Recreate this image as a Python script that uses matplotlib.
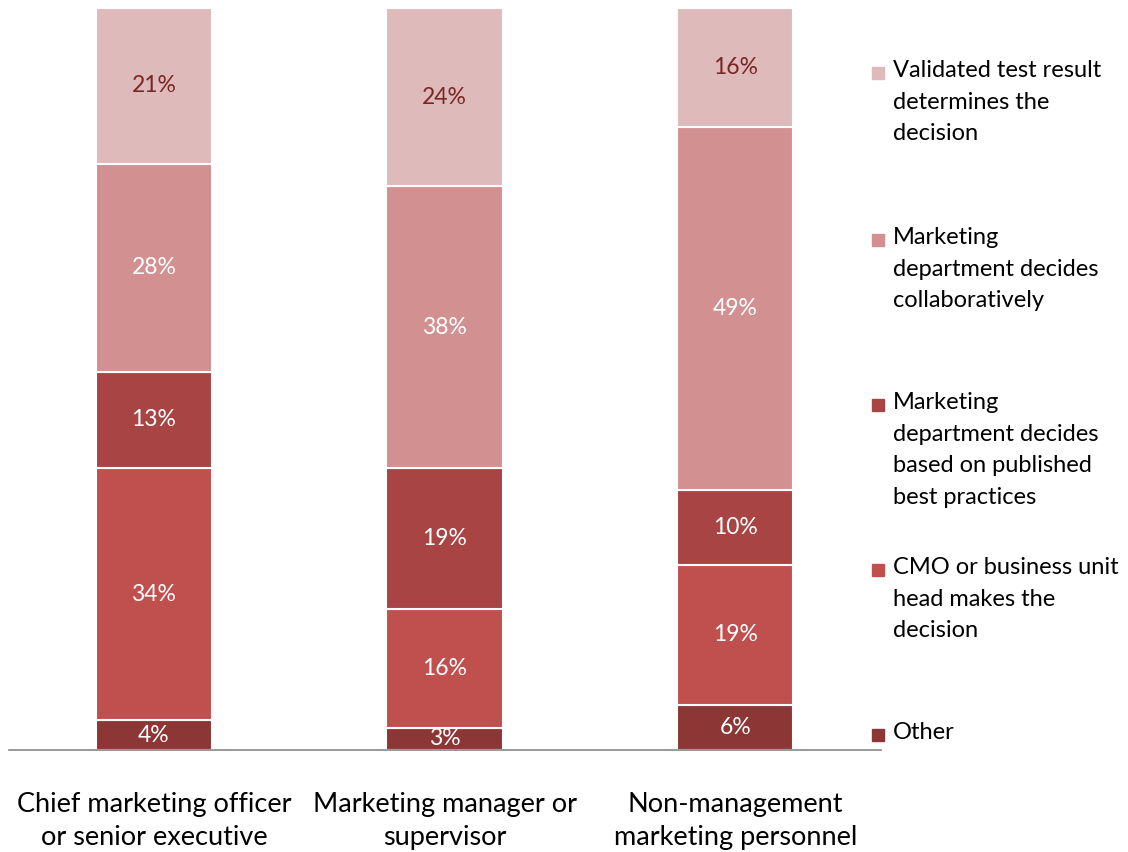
import numpy as np
import matplotlib.pyplot as plt
from matplotlib.patches import Rectangle

# Dados (percentuais, de baixo para cima)
categories = ["Chief marketing officer\nor senior executive",
              "Marketing manager or\nsupervisor",
              "Non-management\nmarketing personnel"]
series_names = ["Other",
                "CMO or business unit\nhead makes the\ndecision",
                "Marketing\ndepartment decides\nbased on published\nbest practices",
                "Marketing\ndepartment decides\ncollaboratively",
                "Validated test result\ndetermines the\ndecision"]
other = [4, 3, 6]
cmo = [34, 16, 19]
best_practices = [13, 19, 10]
collaborative = [28, 38, 49]
validated = [21, 24, 16]
values = [other, cmo, best_practices, collaborative, validated]
colors = ["#8C3636", "#C0504D", "#A84444", "#D29090", "#DFBABA"]
label_colors = ["white", "white", "white", "white", "#7A2626"]

plt.rcParams['font.family'] = ['Lato', 'DejaVu Sans']

fig = plt.figure(figsize=(11.28, 8.52), dpi=100)
ax = fig.add_axes([8.6 / 1128, 102 / 852, 872 / 1128, 742 / 852])

x = np.arange(len(categories))
bottom = np.zeros(len(categories))
for vals, col, lcol in zip(values, colors, label_colors):
    vals = np.array(vals, dtype=float)
    bars = ax.bar(x, vals, width=0.4, bottom=bottom, color=col,
                  edgecolor="white", linewidth=1.5)
    for xi, b, v in zip(x, bottom, vals):
        ax.text(xi, b + v / 2, f"{int(v)}%", ha="center", va="center",
                fontsize=16.5, color=lcol)
    bottom += vals

ax.set_xlim(-0.5, 2.5)
ax.set_ylim(0, 100)
ax.set_yticks([])
ax.set_xticks(x)
ax.set_xticklabels(categories, fontsize=19.5, linespacing=1.4)
ax.tick_params(axis="x", length=0, pad=30)
for s in ["top", "right", "left"]:
    ax.spines[s].set_visible(False)
ax.spines["bottom"].set_color("#888888")
ax.spines["bottom"].set_linewidth(1.2)
ax.spines["bottom"].set_zorder(5)

# Legenda manual (ordem invertida, de cima para baixo)
leg_y = [73, 240, 405, 570, 735]
for yy, name, col in zip(leg_y, series_names[::-1], colors[::-1]):
    fig.patches.append(Rectangle((872 / 1128, 1 - (yy + 6) / 852), 12 / 1128, 12 / 852,
                                 transform=fig.transFigure, color=col))
    fig.text(893 / 1128, 1 - (yy - 13) / 852, name, ha="left", va="top",
             fontsize=17, linespacing=1.62, color="black")

fig.savefig("out.png", dpi=100)
